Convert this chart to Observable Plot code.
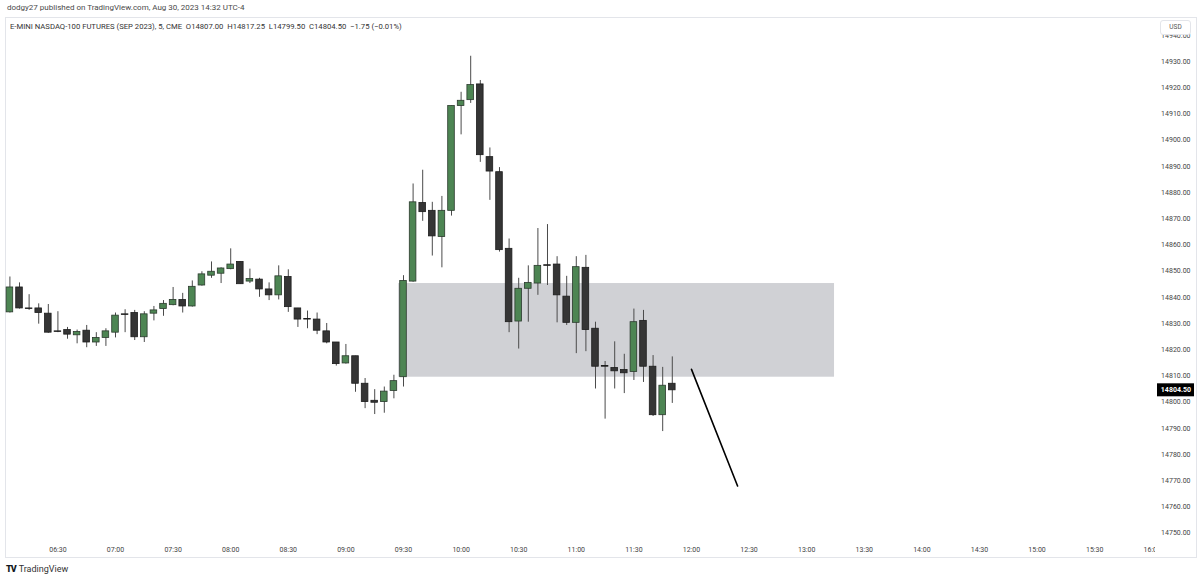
<!DOCTYPE html>
<html>
<head>
<meta charset="utf-8">
<script src="https://cdn.jsdelivr.net/npm/d3@7"></script>
<script src="https://cdn.jsdelivr.net/npm/@observablehq/plot@0.6"></script>
<style>
  html, body { margin: 0; padding: 0; background: #fff; width: 1200px; height: 581px; overflow: hidden; }
  body { position: relative; font-family: Roboto, "Liberation Sans", sans-serif; }
  #header { position: absolute; left: 7px; top: 3px; font-size: 8px; color: #4a4a4a; white-space: nowrap; }
  #panel { position: absolute; left: 5px; top: 17px; width: 1192px; height: 541px; border: 1px solid #e3e5ea; box-sizing: border-box; }
  #legend { position: absolute; left: 10px; top: 22px; font-size: 7.7px; color: #333; white-space: pre; z-index: 3; }
  #chart { position: absolute; left: 0; top: 18px; }
  #usd { position: absolute; left: 1160px; top: 20px; width: 31px; height: 15px; box-sizing: border-box; border: 1px solid #e3e5ea; border-radius: 3px; background: #fff; font-size: 6.5px; color: #555; text-align: center; line-height: 13px; z-index: 3; }
  #clip16 { position: absolute; left: 1155px; top: 542px; width: 40px; height: 14px; background: #fff; z-index: 3; }
  #footer { position: absolute; left: 6px; top: 564px; font-size: 9px; color: #333; white-space: nowrap; display: flex; align-items: center; gap: 3px; }
  #footer .logo { font-weight: 900; font-size: 9px; letter-spacing: -1px; color: #131722; }
</style>
</head>
<body>
<div id="header">dodgy27 published on TradingView.com, Aug 30, 2023 14:32 UTC-4</div>
<div id="panel"></div>
<div id="legend">E-MINI NASDAQ-100 FUTURES (SEP 2023), 5, CME  O14807.00  H14817.25  L14799.50  C14804.50  −1.75 (−0.01%)</div>
<div id="chart"></div>
<div id="usd">USD</div>
<div id="clip16"></div>
<div id="footer"><span class="logo">TV</span><span>TradingView</span></div>
<script>
const times = ["06:05","06:10","06:15","06:20","06:25","06:30","06:35","06:40","06:45","06:50","06:55",
  "07:00","07:05","07:10","07:15","07:20","07:25","07:30","07:35","07:40","07:45","07:50","07:55",
  "08:00","08:05","08:10","08:15","08:20","08:25","08:30","08:35","08:40","08:45","08:50","08:55",
  "09:00","09:05","09:10","09:15","09:20","09:25","09:30","09:35","09:40","09:45","09:50","09:55",
  "10:00","10:05","10:10","10:15","10:20","10:25","10:30","10:35","10:40","10:45","10:50","10:55",
  "11:00","11:05","11:10","11:15","11:20","11:25","11:30","11:35","11:40","11:45","11:50"];
const opens = [14834.25,14843.75,14835.75,14835.75,14833.75,14827.0,14827.5,14825.5,14827.25,14822.75,14824.5,
  14826.5,14833.5,14834.0,14824.75,14833.75,14835.5,14837.0,14839.0,14836.5,14844.5,14848.25,14849.0,
  14850.75,14853.5,14846.0,14846.75,14843.0,14840.75,14847.75,14835.75,14831.75,14831.5,14827.0,14822.75,
  14814.75,14817.5,14807.0,14800.5,14800.0,14804.25,14809.5,14846.0,14876.0,14873.0,14863.0,14873.0,
  14913.0,14915.25,14921.25,14893.5,14887.75,14858.5,14830.75,14843.25,14845.25,14852.25,14852.5,14840.25,
  14830.25,14851.25,14828.0,14813.75,14813.0,14812.25,14811.5,14831.0,14813.5,14795.0,14807.0];
const highs = [14847.75,14845.5,14841.0,14837.5,14837.25,14834.5,14828.5,14827.5,14829.25,14826.5,14828.0,
  14834.0,14835.25,14835.0,14834.5,14836.5,14838.75,14843.75,14841.5,14846.25,14849.75,14853.5,14851.25,
  14858.5,14853.5,14850.75,14847.25,14845.5,14852.0,14850.5,14835.75,14834.75,14834.0,14830.0,14822.75,
  14822.0,14817.5,14809.0,14804.75,14805.75,14810.25,14848.25,14883.25,14888.5,14876.25,14878.5,14913.0,
  14918.25,14932.0,14922.75,14897.0,14889.5,14862.25,14847.25,14852.0,14866.25,14867.75,14855.5,14848.0,
  14855.5,14856.0,14830.5,14815.5,14823.0,14818.25,14835.5,14835.0,14817.75,14813.25,14817.25];
const lows = [14834.0,14835.5,14835.0,14829.75,14826.25,14826.5,14824.0,14822.25,14820.75,14821.25,14821.25,
  14824.5,14826.5,14823.5,14822.75,14831.0,14832.75,14836.75,14834.0,14836.25,14844.25,14847.25,14845.25,
  14850.5,14845.0,14845.25,14840.0,14838.75,14839.0,14834.25,14828.5,14828.0,14825.75,14822.25,14813.75,
  14814.5,14803.75,14797.5,14795.25,14795.75,14801.25,14805.75,14845.75,14869.0,14855.75,14851.25,14871.0,
  14902.0,14914.0,14891.5,14877.0,14857.25,14826.5,14820.25,14830.5,14840.75,14844.5,14830.25,14829.25,
  14818.5,14819.25,14805.0,14793.5,14805.0,14803.25,14808.25,14807.5,14794.5,14788.75,14799.5];
const closes = [14843.75,14835.75,14835.5,14834.0,14826.5,14826.75,14825.75,14826.75,14822.75,14824.5,14827.0,
  14833.0,14833.25,14824.75,14833.5,14835.0,14837.5,14839.0,14836.5,14844.0,14848.75,14849.75,14851.0,
  14852.5,14845.0,14847.0,14843.0,14840.75,14848.0,14836.25,14831.5,14831.5,14827.25,14822.75,14814.5,
  14817.5,14807.0,14800.0,14799.75,14804.0,14808.0,14846.25,14876.25,14872.5,14863.25,14873.0,14913.0,
  14915.0,14921.0,14894.25,14888.0,14858.0,14830.5,14843.25,14845.5,14852.0,14852.0,14840.75,14830.25,
  14851.5,14827.5,14813.5,14813.5,14811.75,14811.0,14830.5,14813.5,14795.0,14806.25,14804.5];

const timeTickLabels = ["06:30","07:00","07:30","08:00","08:30","09:00","09:30","10:00","10:30","11:00",
  "11:30","12:00","12:30","13:00","13:30","14:00","14:30","15:00","15:30","16:00"];
const priceTicks = [14750,14760,14770,14780,14790,14800,14810,14820,14830,14840,14850,
  14860,14870,14880,14890,14900,14910,14920,14930,14940];
const zoneTimes = ["09:27:30","13:14:30"];
const zonePrices = [14809.5,14845.25];
const arrowTimes = ["12:00","12:24"];
const arrowPrices = [14812.5,14768];
const lastPrice = 14804.5;

const toMin = s => { const p = s.split(":").map(Number); return p[0]*60 + p[1] + (p[2]||0)/60; };
const bars = times.map((t,i) => ({t: toMin(t), open: opens[i], high: highs[i], low: lows[i], close: closes[i]}));
const tickMinutes = timeTickLabels.map(toMin);
const tickLabelMap = new Map(tickMinutes.map((m,i) => [m, timeTickLabels[i]]));
const zone = [{x1: toMin(zoneTimes[0]), x2: toMin(zoneTimes[1]), y1: zonePrices[0], y2: zonePrices[1]}];
const arrow = arrowTimes.map((t,i) => ({t: toMin(t), p: arrowPrices[i]}));

const GREEN = "#4d8553", GREEN_STROKE = "#2b3a2d";
const DARK = "#353535", DARK_STROKE = "#1c1c1c";
const up = d => d.close >= d.open;

function priceTag(index, scales, values, dimensions) {
  const y = scales.y(lastPrice);
  const x0 = dimensions.width - dimensions.marginRight;
  const g = d3.create("svg:g");
  g.append("rect").attr("x", x0 + 1).attr("y", y - 6.5).attr("width", 37).attr("height", 13).attr("fill", "#000");
  g.append("text").attr("x", x0 + 35).attr("y", y).attr("dy", "0.35em").attr("text-anchor", "end")
    .attr("fill", "#fff").attr("font-size", 7).attr("font-weight", "bold").text(lastPrice.toFixed(2));
  return g.node();
}

const chart = Plot.plot({
  width: 1200,
  height: 540,
  marginLeft: 5,
  marginRight: 44,
  marginTop: 1,
  marginBottom: 21,
  x: {type: "linear", domain: [362.7, 962.2], axis: null},
  y: {domain: [14748.32, 14946.03], axis: null},
  style: {background: "transparent", fontFamily: "Roboto, 'Liberation Sans', sans-serif", overflow: "visible"},
  marks: [
    Plot.rect(zone, {x1: "x1", x2: "x2", y1: "y1", y2: "y2", fill: "#d0d1d5"}),
    Plot.ruleX(bars, {x: "t", y1: "low", y2: "high", stroke: "#4a4a4a", strokeWidth: 1}),
    Plot.rect(bars, {
      x1: d => d.t - 2.5, x2: d => d.t + 2.5, y1: "open", y2: "close",
      insetLeft: 1.5, insetRight: 1.5,
      fill: d => up(d) ? GREEN : DARK,
      stroke: d => up(d) ? GREEN_STROKE : DARK_STROKE,
      strokeWidth: 0.8
    }),
    Plot.line(arrow, {x: "t", y: "p", stroke: "#000", strokeWidth: 1.6}),
    Plot.axisX({ticks: tickMinutes, tickFormat: d => tickLabelMap.get(d), tickSize: 0, tickPadding: 9.5, fontSize: 7, fill: "#444"}),
    Plot.axisY({anchor: "right", ticks: priceTicks, tickFormat: d => d.toFixed(2), tickSize: 0, tickPadding: 34, textAnchor: "end", fontSize: 7, fill: "#444"}),
    priceTag
  ]
});
document.getElementById("chart").appendChild(chart);
</script>
</body>
</html>
